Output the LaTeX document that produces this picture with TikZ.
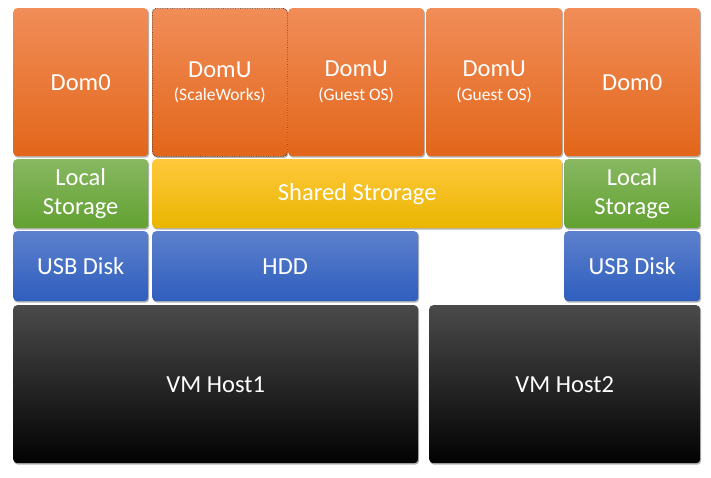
\documentclass[tikz,border=0pt]{standalone}
\usepackage{fontspec}
\setmainfont{Carlito}
\usetikzlibrary{shadows}

\definecolor{orgtop}{HTML}{F18D58}
\definecolor{orgmid}{HTML}{EF7A2E}
\definecolor{orgbot}{HTML}{E2661A}
\definecolor{grntop}{HTML}{88B862}
\definecolor{grnbot}{HTML}{62A131}
\definecolor{ylwtop}{HTML}{FFC83C}
\definecolor{ylwmid}{HTML}{FFC000}
\definecolor{ylwbot}{HTML}{E9B600}
\definecolor{blutop}{HTML}{5C80CC}
\definecolor{blubot}{HTML}{2F5EBE}
\definecolor{blktop}{HTML}{4A4A4A}
\definecolor{blkbot}{HTML}{020202}

\begin{document}
\begin{tikzpicture}[x=1pt,y=-1pt,
	blk/.style={rectangle,rounded corners=4pt,anchor=north west,inner sep=0pt,
		text=white,align=center,font=\fontsize{24.5}{29}\selectfont,
		drop shadow={shadow xshift=1pt,shadow yshift=-1.5pt,opacity=.3,fill=black}},
	dom/.style={blk,top color=orgtop,middle color=orgmid,bottom color=orgbot,
		minimum height=148pt},
	local/.style={blk,top color=grntop,bottom color=grnbot,minimum height=69pt},
	shared/.style={blk,top color=ylwtop,middle color=ylwmid,bottom color=ylwbot,minimum height=69pt},
	disk/.style={blk,top color=blutop,bottom color=blubot,minimum height=70pt},
	host/.style={blk,top color=blktop,bottom color=blkbot,minimum height=158pt}]
	\useasboundingbox (0,0) rectangle (711,477);
	
	% domains
	\node[dom,minimum width=135pt] (dom0a) at (13,8) {Dom0};
	\node[dom,minimum width=135pt,draw=black!80,densely dotted,line width=.7pt] (domua) at (152,8)
		{DomU\\[-5pt]{\fontsize{17.5}{21}\selectfont(ScaleWorks)}};
	\node[dom,minimum width=136pt] (domub) at (288,8)
		{DomU\\[-5pt]{\fontsize{17.5}{21}\selectfont(Guest OS)}};
	\node[dom,minimum width=136pt] (domuc) at (426,8)
		{DomU\\[-5pt]{\fontsize{17.5}{21}\selectfont(Guest OS)}};
	\node[dom,minimum width=136pt] (dom0b) at (564,8) {Dom0};
	
	% storage
	\node[local,minimum width=135pt] (locala) at (13,159) {Local\\Storage};
	\node[shared,minimum width=410pt] (shared) at (152,159) {Shared Strorage};
	\node[local,minimum width=136pt] (localb) at (564,159) {Local\\Storage};
	
	% disks
	\node[disk,minimum width=135pt] (usba) at (13,231) {USB Disk};
	\node[disk,minimum width=266pt] (hdd) at (152,231) {HDD};
	\node[disk,minimum width=136pt] (usbb) at (564,231) {USB Disk};
	
	% hosts
	\node[host,minimum width=405pt] (hosta) at (13,305) {VM Host1};
	\node[host,minimum width=271pt] (hostb) at (429,305) {VM Host2};
\end{tikzpicture}
\end{document}
